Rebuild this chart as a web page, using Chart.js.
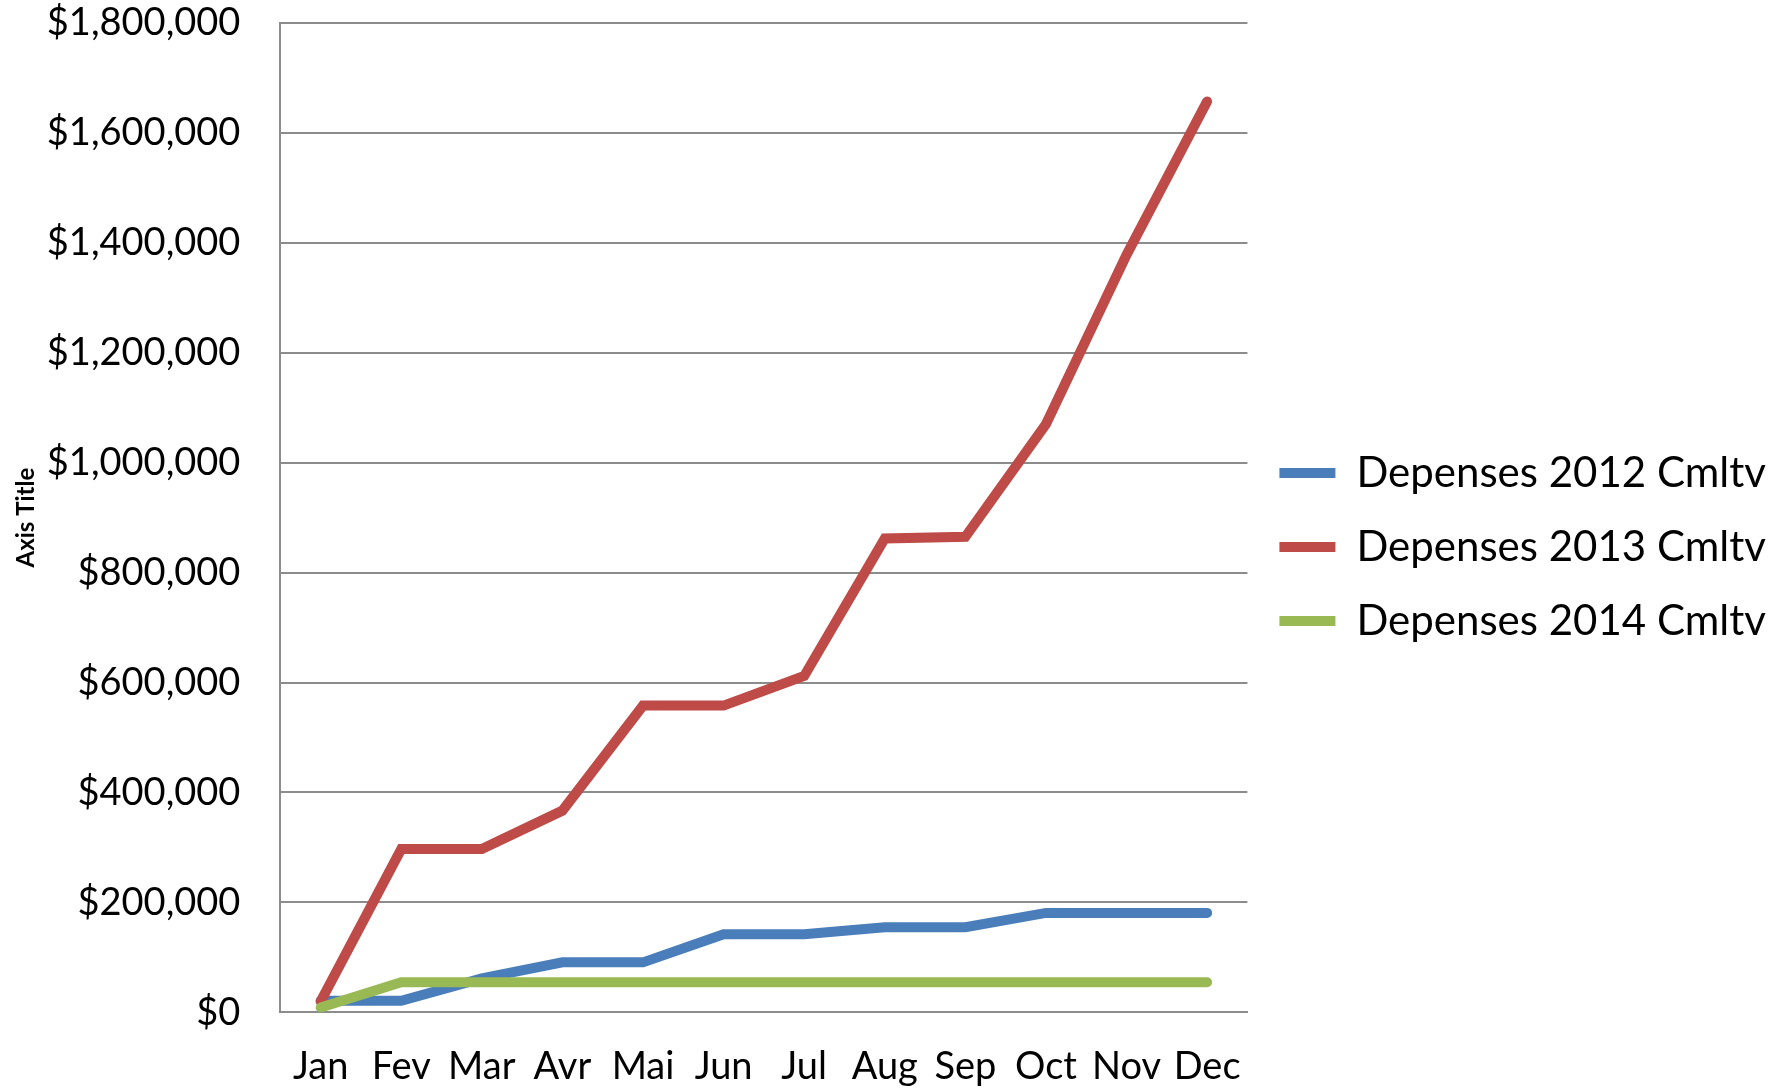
<!DOCTYPE html>
<html>
<head>
<meta charset="utf-8">
<script src="https://cdn.jsdelivr.net/npm/chart.js@4/dist/chart.umd.min.js"></script>
<style>
  html, body { margin: 0; padding: 0; background: #fff; }
  #wrap { width: 1791px; height: 1092px; }
</style>
</head>
<body>
<div id="wrap"><canvas id="chart" width="1791" height="1092"></canvas></div>
<script>
// values
const months = ['Jan', 'Fev', 'Mar', 'Avr', 'Mai', 'Jun', 'Jul', 'Aug', 'Sep', 'Oct', 'Nov', 'Dec']
const depenses2012 = [21000, 21000, 62000, 91000, 91000, 142000, 142000, 155000, 155000, 181000, 181000, 181000]
const depenses2013 = [20000, 297000, 297000, 367000, 558000, 558000, 612000, 862000, 865000, 1070000, 1378000, 1657000]
const depenses2014 = [9000, 55000, 55000, 55000, 55000, 55000, 55000, 55000, 55000, 55000, 55000, 55000]
const seriesNames = ['Depenses 2012 Cmltv', 'Depenses 2013 Cmltv', 'Depenses 2014 Cmltv']
const yTicks = { min: 0, max: 1800000, step: 200000 }

const FONT = "Lato, 'Open Sans', sans-serif"
const GRID = '#8c8c8c'

function lineSet(label, data, color, order) {
  return {
    label: label,
    data: data,
    borderColor: color,
    backgroundColor: color,
    borderWidth: 10,
    borderCapStyle: 'round',
    tension: 0,
    pointRadius: 0,
    pointHoverRadius: 0,
    fill: false,
    order: order
  }
}

function draw() {
  const ctx = document.getElementById('chart').getContext('2d')
  new Chart(ctx, {
    type: 'line',
    data: {
      labels: months,
      datasets: [
        lineSet(seriesNames[0], depenses2012, '#4a7ebb', 3),
        lineSet(seriesNames[1], depenses2013, '#be4b48', 2),
        lineSet(seriesNames[2], depenses2014, '#98b954', 1)
      ]
    },
    options: {
      responsive: false,
      animation: false,
      layout: {
        padding: { top: 2, right: 15, bottom: -30, left: 6 }
      },
      plugins: {
        tooltip: { enabled: false },
        legend: {
          position: 'right',
          align: 'start',
          maxWidth: 800,
          // empty title only pushes the items down to the middle
          title: {
            display: true,
            text: '',
            font: { size: 10 },
            padding: { top: 406, bottom: 0 }
          },
          labels: {
            usePointStyle: true,
            pointStyle: 'line',
            pointStyleWidth: 56,
            boxHeight: 10,
            padding: 32,
            color: '#000',
            font: { family: FONT, size: 42 },
            sort: (a, b) => a.datasetIndex - b.datasetIndex
          }
        }
      },
      scales: {
        x: {
          offset: true,
          grid: { display: false, drawTicks: false },
          border: { display: true, color: GRID, width: 2 },
          ticks: {
            color: '#000',
            padding: 32,
            maxRotation: 0,
            autoSkip: false,
            font: { family: FONT, size: 38 }
          }
        },
        y: {
          min: yTicks.min,
          max: yTicks.max,
          // invisible tick marks give the gap between labels and axis
          grid: { color: GRID, lineWidth: 2, drawTicks: true, tickLength: 40, tickColor: 'rgba(0,0,0,0)' },
          border: { display: true, color: GRID, width: 2 },
          ticks: {
            stepSize: yTicks.step,
            color: '#000',
            padding: 0,
            font: { family: FONT, size: 38 },
            callback: function(value) {
              return '$' + value.toLocaleString('en-US')
            }
          },
          title: {
            display: true,
            text: 'Axis Title',
            color: '#000',
            padding: { top: 6, bottom: 6 },
            font: { family: FONT, size: 24, weight: 'bold' }
          }
        }
      }
    }
  })
}

Promise.all([
  document.fonts.load("38px Lato"),
  document.fonts.load("42px Lato"),
  document.fonts.load("bold 24px Lato")
]).then(draw, draw)
</script>
</body>
</html>
